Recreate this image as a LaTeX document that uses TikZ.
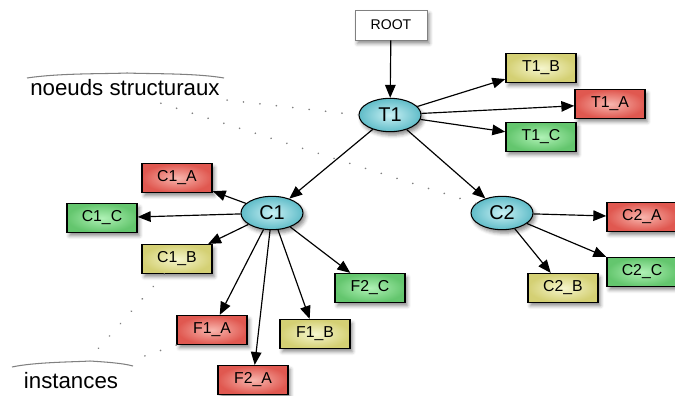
\documentclass[tikz,border=0pt]{standalone}
\usepackage{fontspec}
\setmainfont{Liberation Sans}
\usepackage{xcolor}
\usepackage{tikz}
\usetikzlibrary{positioning,calc,arrows.meta,shapes.geometric,shadows.blur}

\definecolor{rougein}{RGB}{248,182,174}
\definecolor{rougeout}{RGB}{224,88,80}
\definecolor{jaunein}{RGB}{246,246,206}
\definecolor{jauneout}{RGB}{212,208,116}
\definecolor{vertin}{RGB}{176,242,182}
\definecolor{vertout}{RGB}{100,198,110}
\definecolor{cyanin}{RGB}{200,240,244}
\definecolor{cyanout}{RGB}{96,188,200}

\begin{document}
\begin{tikzpicture}[x=0.03cm, y=-0.03cm,
	ombre/.style={blur shadow={shadow xshift=2pt, shadow yshift=-3pt, shadow blur radius=3pt, shadow opacity=45}},
	box/.style={rectangle, draw, line width=1.3pt, minimum width=2.1cm, minimum height=0.86cm, inner sep=0pt, font=\fontsize{13.5}{15}\selectfont, ombre},
	rouge/.style={box, inner color=rougein, outer color=rougeout},
	jaune/.style={box, inner color=jaunein, outer color=jauneout},
	vert/.style={box, inner color=vertin, outer color=vertout},
	noeud/.style={ellipse, draw, line width=0.9pt, minimum width=1.86cm, minimum height=1cm, inner sep=0pt, inner color=cyanin, outer color=cyanout, font=\fontsize{17}{19}\selectfont, ombre},
	fleche/.style={-{Triangle[length=11pt,width=9pt]}, line width=1pt},
	pointille/.style={gray, line width=1.5pt, dash pattern=on 0.1pt off 14pt, line cap=round},
	accolade/.style={gray, line width=0.9pt}]
	\useasboundingbox (0,0) rectangle (675,396);
	% racine et noeuds structuraux
	\node[box, fill=white, draw=gray, line width=0.6pt, minimum width=2.16cm, minimum height=0.9cm, font=\fontsize{12}{14}\selectfont] (root) at (391,25) {ROOT};
	\node[noeud] (T1) at (390,115) {T1};
	\node[noeud] (C1) at (272,213) {C1};
	\node[noeud] (C2) at (502,213) {C2};
	% instances
	\node[jaune] (T1_B) at (541,68) {T1\_B};
	\node[rouge] (T1_A) at (610,104) {T1\_A};
	\node[vert] (T1_C) at (541,137) {T1\_C};
	\node[rouge] (C1_A) at (177,178) {C1\_A};
	\node[vert] (C1_C) at (102,218) {C1\_C};
	\node[jaune] (C1_B) at (177,259) {C1\_B};
	\node[vert] (F2_C) at (370,288) {F2\_C};
	\node[rouge] (F1_A) at (212,330) {F1\_A};
	\node[jaune] (F1_B) at (315,334) {F1\_B};
	\node[rouge] (F2_A) at (253,380) {F2\_A};
	\node[rouge] (C2_A) at (642,217) {C2\_A};
	\node[vert] (C2_C) at (642,272) {C2\_C};
	\node[jaune] (C2_B) at (563,288) {C2\_B};
	% legendes
	\node[anchor=base, font=\fontsize{19}{21}\selectfont] (ns) at (125,96) {noeuds structuraux};
	\node[anchor=base, font=\fontsize{19}{21}\selectfont] (inst) at (71,388) {instances};
	\coordinate (ns1) at (160,103);
	\coordinate (ns2) at (226,100);
	\coordinate (in1) at (97,350);
	\coordinate (in2) at (130,361);
	\draw[accolade] (27,78) .. controls (60,73) and (105,74) .. (127,73) .. controls (150,74) and (195,73) .. (224,78);
	\draw[accolade] (12,367) .. controls (35,362) and (75,362) .. (90,361) .. controls (105,362) and (122,363) .. (133,366);
	\draw[pointille] (T1.west) -- (ns2);
	\draw[pointille] (C2.160) -- (ns1);
	\draw[pointille] (C1_B.-130) -- (in1);
	\draw[pointille] (F1_A.south west) -- (in2);
	% aretes
	\draw[fleche] (root) -- (T1);
	\draw[fleche] (T1) -- (T1_B);
	\draw[fleche] (T1) -- (T1_A);
	\draw[fleche] (T1) -- (T1_C);
	\draw[fleche] (T1) -- (C1);
	\draw[fleche] (T1) -- (C2);
	\draw[fleche] (C1) -- (C1_A);
	\draw[fleche] (C1) -- (C1_C);
	\draw[fleche] (C1) -- (C1_B);
	\draw[fleche] (C1) -- (F1_A);
	\draw[fleche] (C1) -- (F2_A);
	\draw[fleche] (C1) -- (F1_B);
	\draw[fleche] (C1) -- (F2_C);
	\draw[fleche] (C2) -- (C2_A);
	\draw[fleche] (C2) -- (C2_C);
	\draw[fleche] (C2) -- (C2_B);
\end{tikzpicture}
\end{document}
